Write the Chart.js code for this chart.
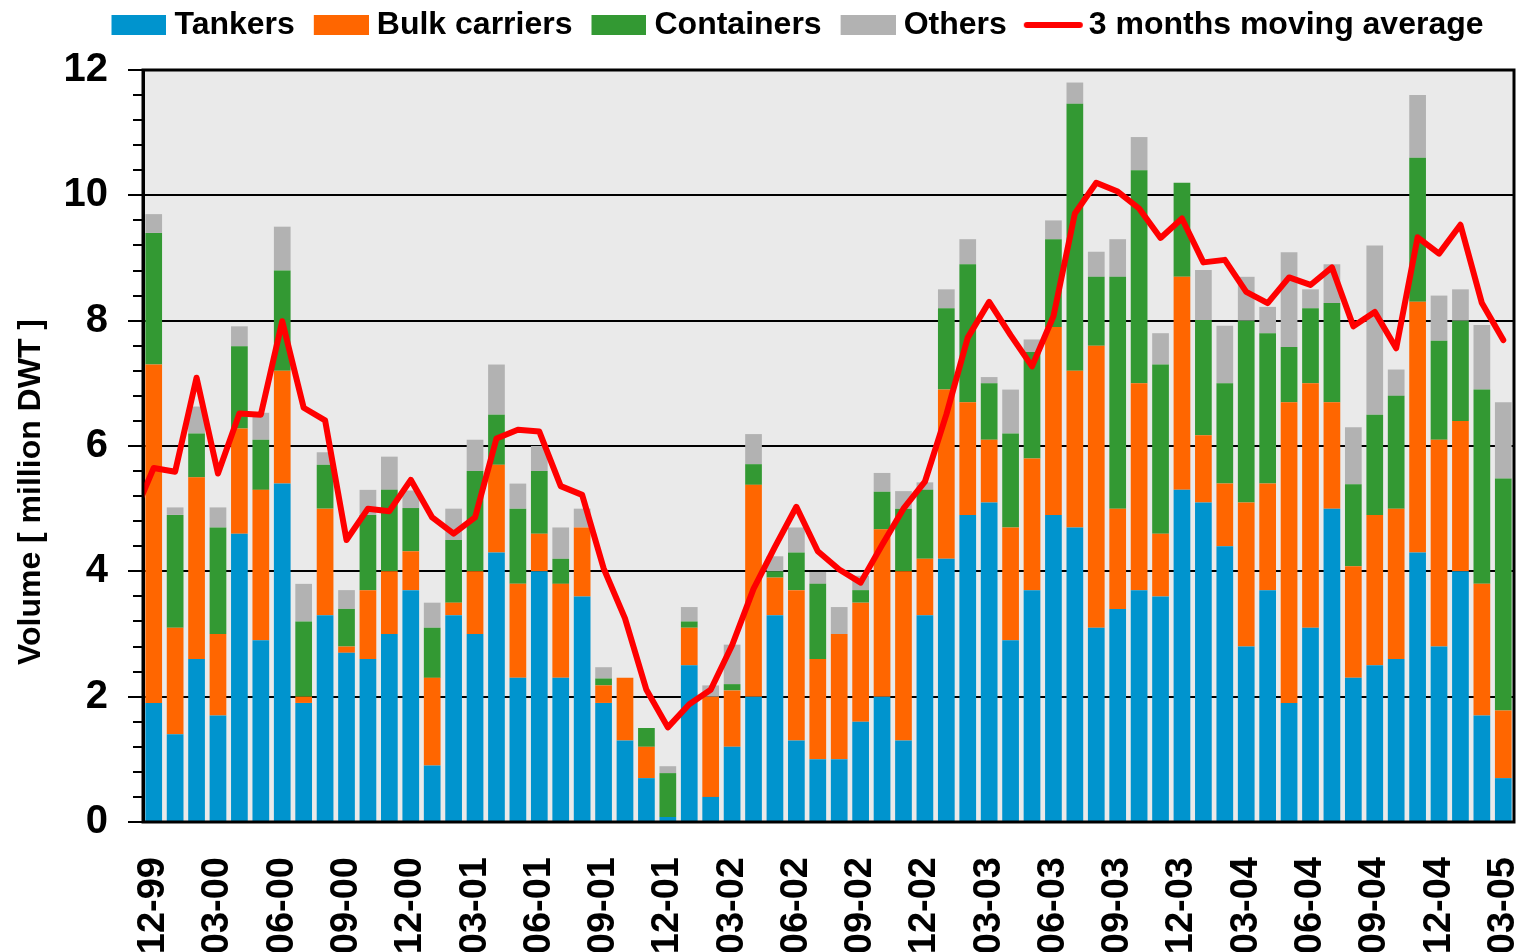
<!DOCTYPE html>
<html>
<head>
<meta charset="utf-8">
<title>Monthly volume by ship type</title>
<script src="https://cdn.jsdelivr.net/npm/chart.js@4.4.1/dist/chart.umd.min.js"></script>
<style>
  html, body { margin: 0; padding: 0; background: #fff; }
  #wrap { width: 1523px; height: 952px; }
</style>
</head>
<body>
<div id="wrap"><canvas id="bars" width="1523" height="952"></canvas></div>
<script>
// months Dec 1999 .. Mar 2005
const months = [
  '12-99',
  '01-00', '02-00', '03-00', '04-00', '05-00', '06-00', '07-00', '08-00', '09-00', '10-00', '11-00', '12-00',
  '01-01', '02-01', '03-01', '04-01', '05-01', '06-01', '07-01', '08-01', '09-01', '10-01', '11-01', '12-01',
  '01-02', '02-02', '03-02', '04-02', '05-02', '06-02', '07-02', '08-02', '09-02', '10-02', '11-02', '12-02',
  '01-03', '02-03', '03-03', '04-03', '05-03', '06-03', '07-03', '08-03', '09-03', '10-03', '11-03', '12-03',
  '01-04', '02-04', '03-04', '04-04', '05-04', '06-04', '07-04', '08-04', '09-04', '10-04', '11-04', '12-04',
  '01-05', '02-05', '03-05'
];

const tankers = [
  1.9,
  1.4, 2.6, 1.7, 4.6, 2.9, 5.4, 1.9, 3.3, 2.7, 2.6, 3.0, 3.7,
  0.9, 3.3, 3.0, 4.3, 2.3, 4.0, 2.3, 3.6, 1.9, 1.3, 0.7, 0.08,
  2.5, 0.4, 1.2, 2.0, 3.3, 1.3, 1.0, 1.0, 1.6, 2.0, 1.3, 3.3,
  4.2, 4.9, 5.1, 2.9, 3.7, 4.9, 4.7, 3.1, 3.4, 3.7, 3.6, 5.3,
  5.1, 4.4, 2.8, 3.7, 1.9, 3.1, 5.0, 2.3, 2.5, 2.6, 4.3, 2.8,
  4.0, 1.7, 0.7
];
const bulkCarriers = [
  5.4,
  1.7, 2.9, 1.3, 1.68, 2.4, 1.8, 0.1, 1.7, 0.1, 1.1, 1.0, 0.62,
  1.4, 0.2, 1.0, 1.4, 1.5, 0.6, 1.5, 1.1, 0.28, 1.0, 0.5, 0,
  0.6, 1.6, 0.9, 3.38, 0.6, 2.4, 1.6, 2.0, 1.9, 2.67, 2.7, 0.9,
  2.7, 1.8, 1.0, 1.8, 2.1, 3.0, 2.5, 4.5, 1.6, 3.3, 1.0, 3.4,
  1.07, 1.0, 2.3, 1.7, 4.8, 3.9, 1.7, 1.78, 2.4, 2.4, 4.0, 3.3,
  2.4, 2.1, 1.08
];
const containers = [
  2.1,
  1.8, 0.7, 1.7, 1.31, 0.8, 1.6, 1.2, 0.7, 0.6, 1.2, 1.3, 0.69,
  0.8, 1.0, 1.6, 0.8, 1.2, 1.0, 0.4, 0, 0.11, 0, 0.3, 0.7,
  0.1, 0, 0.1, 0.33, 0.1, 0.6, 1.2, 0, 0.2, 0.6, 1.0, 1.1,
  1.3, 2.2, 0.9, 1.5, 1.7, 1.4, 4.26, 1.1, 3.7, 3.4, 2.7, 1.5,
  1.84, 1.6, 2.9, 2.4, 0.88, 1.2, 1.58, 1.31, 1.6, 1.8, 2.3, 1.58,
  1.6, 3.1, 3.7
];
const others = [
  0.3,
  0.12, 0.43, 0.32, 0.32, 0.43, 0.7, 0.6, 0.2, 0.3, 0.4, 0.53, 0.28,
  0.4, 0.5, 0.5, 0.8, 0.4, 0.4, 0.5, 0.3, 0.18, 0, 0, 0.11,
  0.23, 0.18, 0.63, 0.48, 0.24, 0.4, 0.19, 0.43, 0.23, 0.3, 0.28, 0.12,
  0.3, 0.4, 0.1, 0.7, 0.2, 0.3, 0.34, 0.4, 0.6, 0.53, 0.5, 0,
  0.8, 0.92, 0.7, 0.42, 1.51, 0.3, 0.62, 0.91, 2.7, 0.42, 1.0, 0.72,
  0.5, 1.03, 1.22
];
// 3 months moving average, first value is 11-99 (partly outside the plot)
const movingAvg = [
  4.84, 5.65,
  5.59, 7.09, 5.56, 6.52, 6.50, 7.99, 6.61, 6.41, 4.50, 5.00, 4.96, 5.46,
  4.86, 4.60, 4.86, 6.12, 6.26, 6.23, 5.36, 5.22, 4.05, 3.25, 2.11, 1.51,
  1.88, 2.11, 2.82, 3.72, 4.39, 5.03, 4.32, 4.03, 3.82, 4.42, 5.00, 5.43,
  6.50, 7.73, 8.30, 7.77, 7.27, 8.07, 9.71, 10.20, 10.06, 9.79, 9.32, 9.63,
  8.93, 8.97, 8.46, 8.28, 8.69, 8.57, 8.85, 7.91, 8.14, 7.56, 9.33, 9.07,
  9.53, 8.28, 7.69
];
const yTitle = 'Volume [ million DWT ]';

const FONT = "'Liberation Sans', Arial, Helvetica, sans-serif";
Chart.defaults.font.family = FONT;
Chart.defaults.color = '#000';

// legend swatches: small canvases so the box sits close to its text
function swatch(color, isLine) {
  const c = document.createElement('canvas');
  const g = c.getContext('2d');
  if (isLine) {
    c.width = 87; c.height = 20;
    g.strokeStyle = color;
    g.lineWidth = 6;
    g.lineCap = 'round';
    g.beginPath();
    g.moveTo(25, 10);
    g.lineTo(78, 10);
    g.stroke();
  } else {
    c.width = 71; c.height = 20;
    g.fillStyle = color;
    g.fillRect(16, 0, 55, 20);
  }
  return c;
}

// grey plot background, black frame, small y ticks, y title, legend placement
const frame = {
  id: 'frame',
  afterLayout(chart) {
    const lg = chart.legend;
    const h = lg.height;
    lg.left = 73;
    lg.right = 1514;
    lg.width = lg.right - lg.left;
    lg.top = -2;
    lg.bottom = lg.top + h;
  },
  beforeDraw(chart) {
    const { ctx, chartArea: a } = chart;
    ctx.save();
    ctx.fillStyle = '#EAEAEA';
    ctx.fillRect(a.left, a.top, a.right - a.left, a.bottom - a.top);
    ctx.restore();
  },
  afterDraw(chart) {
    const { ctx, chartArea: a } = chart;
    const y = chart.scales.y;
    ctx.save();
    ctx.strokeStyle = '#000';
    ctx.lineWidth = 3;
    ctx.strokeRect(a.left, a.top, a.right - a.left, a.bottom - a.top);
    ctx.lineWidth = 2;
    ctx.beginPath();
    for (let k = 0; k <= 30; k++) {
      const py = Math.round(y.getPixelForValue(k * 0.4));
      ctx.moveTo(a.left - 10, py);
      ctx.lineTo(a.left, py);
    }
    ctx.stroke();
    // y axis title
    ctx.translate(31, 492);
    ctx.rotate(-Math.PI / 2);
    ctx.fillStyle = '#000';
    ctx.font = 'bold 32px ' + FONT;
    ctx.textAlign = 'center';
    ctx.textBaseline = 'middle';
    ctx.fillText(yTitle, 0, 0);
    ctx.restore();
  }
};

const barSet = (label, data, color) => ({
  label: label,
  data: data,
  backgroundColor: color,
  borderWidth: 0,
  grouped: false,
  barPercentage: 0.78,
  categoryPercentage: 1.0,
  xAxisID: 'x',
  yAxisID: 'y'
});

const config = {
  type: 'bar',
  data: {
    labels: months,
    datasets: [
      barSet('Tankers', tankers, '#0094CE'),
      barSet('Bulk carriers', bulkCarriers, '#FF6600'),
      barSet('Containers', containers, '#339933'),
      barSet('Others', others, '#B2B2B2'),
      {
        type: 'line',
        label: '3 months moving average',
        data: movingAvg.map((v, i) => ({ x: i - 1, y: v })),
        borderColor: '#FF0000',
        backgroundColor: '#FF0000',
        borderWidth: 6,
        borderJoinStyle: 'round',
        borderCapStyle: 'round',
        pointRadius: 0,
        tension: 0,
        order: -1,
        xAxisID: 'xl',
        yAxisID: 'y'
      }
    ]
  },
  options: {
    responsive: false,
    animation: false,
    events: [],
    layout: { padding: { left: 0, right: 9, top: 4, bottom: 0 } },
    plugins: {
      tooltip: { enabled: false },
      legend: {
        position: 'top',
        labels: {
          usePointStyle: true,
          pointStyleWidth: 55,
          boxHeight: 20,
          padding: 11,
          color: '#000',
          font: { size: 32, weight: 'bold' },
          sort: (a, b) => a.datasetIndex - b.datasetIndex,
          generateLabels(chart) {
            const items = Chart.defaults.plugins.legend.labels.generateLabels(chart);
            items.forEach(it => {
              const ds = chart.data.datasets[it.datasetIndex];
              const isLine = ds.type === 'line';
              it.pointStyle = swatch(isLine ? ds.borderColor : ds.backgroundColor, isLine);
              it.lineWidth = 0;
            });
            return items;
          }
        }
      }
    },
    scales: {
      x: {
        stacked: true,
        offset: true,
        grid: { display: false, drawTicks: false },
        border: { display: false },
        ticks: {
          autoSkip: false,
          minRotation: 90,
          maxRotation: 90,
          padding: 35,
          color: '#000',
          font: { size: 38, weight: 'bold' },
          callback: (val, index) => (index % 3 === 0 ? months[index] : '')
        },
        afterFit(s) { s.height = 130; s.paddingLeft = 0; s.paddingRight = 0; }
      },
      xl: {
        type: 'linear',
        display: false,
        min: -0.5,
        max: 63.5,
        offset: false
      },
      y: {
        stacked: true,
        min: 0,
        max: 12,
        ticks: { stepSize: 2, padding: 20, color: '#000', font: { size: 40, weight: 'bold' } },
        grid: { color: '#000', lineWidth: 2, tickLength: 15, tickColor: '#000', tickWidth: 2 },
        border: { color: '#000', width: 3 },
        title: { display: false },
        afterFit(s) { s.width = 143; s.paddingTop = 70; s.paddingBottom = 0; }
      }
    }
  },
  plugins: [frame]
};

const barsCtx = document.getElementById('bars');
window.myBar = new Chart(barsCtx, config);
</script>
</body>
</html>
